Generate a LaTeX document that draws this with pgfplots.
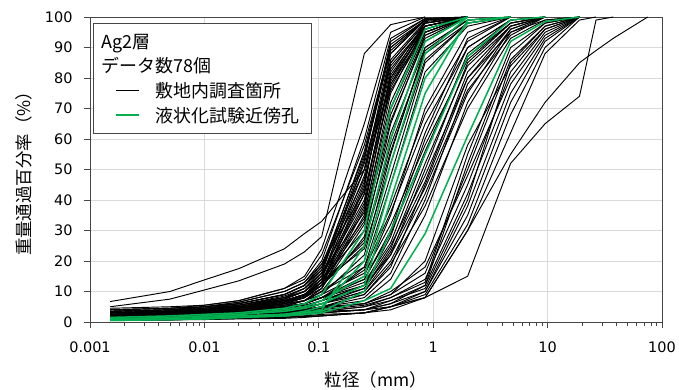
\documentclass[border=0pt]{standalone}
\usepackage{fontspec}
\setmainfont{DejaVu Sans}
\newfontfamily\jp{Noto Sans CJK JP}
\usepackage{pgfplots}
\pgfplotsset{compat=1.18}
\definecolor{xlgreen}{RGB}{0,176,80}
\definecolor{gridgray}{RGB}{217,217,217}
\definecolor{axgray}{RGB}{70,70,70}
\pgfplotsset{cb/.style={black, line width=0.95bp, forget plot},
             cg/.style={xlgreen, line width=1.5bp, forget plot}}
\begin{document}
\begin{tikzpicture}
\useasboundingbox (-90bp,-68bp) rectangle (589bp,322bp);
\begin{axis}[
  at={(0,0)}, anchor=south west,
  scale only axis, width=572bp, height=305bp,
  xmode=log, xmin=0.001, xmax=100, ymin=0, ymax=100,
  xtick={0.001,0.01,0.1,1,10,100},
  xticklabels={0.001,0.01,0.1,1,10,100},
  minor xtick={0.002,0.003,0.004,0.005,0.006,0.007,0.008,0.009,0.02,0.03,0.04,0.05,0.06,0.07,0.08,0.09,0.2,0.3,0.4,0.5,0.6,0.7,0.8,0.9,2,3,4,5,6,7,8,9,20,30,40,50,60,70,80,90},
  ytick={0,10,...,100},
  grid=major, major grid style={gridgray, line width=0.9bp},
  axis line style={axgray, line width=0.9bp},
  tick align=outside, tick pos=left,
  major tick length=6bp, minor tick length=4bp,
  every tick/.style={axgray, line width=0.8bp},
  /pgf/number format/assume math mode=true,
  tick label style={font=\fontsize{14.5}{14.5}\selectfont},
  xticklabel style={yshift=-10bp},
  yticklabel style={xshift=-8bp},
  xlabel={\jp 粒径（mm）}, ylabel={\jp 重量通過百分率（\%）},
  label style={font=\fontsize{17.5}{17.5}\selectfont},
  xlabel style={at={(axis description cs:0.5,-0.19)}, anchor=center},
  ylabel style={at={(axis description cs:-0.1154,0.5)}, anchor=center},
  legend style={at={(axis description cs:0.005,0.979)}, anchor=north west,
    draw=axgray, line width=0.9bp, fill=white, font=\fontsize{18}{18}\selectfont\jp,
    row sep=4bp, inner xsep=22bp, inner ysep=8bp},
  legend cell align=left,
  legend image code/.code={\draw[#1] (0bp,0bp) -- (23bp,0bp);},
]
\addlegendimage{empty legend}\addlegendentry{\hspace*{-40bp}Ag2層}
\addlegendimage{empty legend}\addlegendentry{\hspace*{-40bp}データ数78個}
\addlegendimage{black, line width=1.1bp}\addlegendentry{\hspace*{14bp}敷地内調査箇所}
\addlegendimage{xlgreen, line width=1.5bp}\addlegendentry{\hspace*{14bp}液状化試験近傍孔\hspace*{-12bp}}
% fine group
\addplot[cb] coordinates {(0.0015,3)(0.005,3.5)(0.01,4)(0.02,5)(0.05,7)(0.075,9)(0.106,13)(0.25,45)(0.425,85)(0.85,98)(2,100)};
\addplot[cb] coordinates {(0.0015,2.5)(0.005,3)(0.01,3.5)(0.02,4.5)(0.05,6.5)(0.075,8)(0.106,12)(0.25,38)(0.425,78)(0.85,97)(2,100)};
\addplot[cb] coordinates {(0.0015,3.5)(0.005,4)(0.01,4.5)(0.02,6)(0.05,9)(0.075,12)(0.106,18)(0.25,55)(0.425,90)(0.85,99)(2,100)};
\addplot[cb] coordinates {(0.0015,2)(0.005,2.5)(0.01,3)(0.02,3.5)(0.05,5)(0.075,6)(0.106,9)(0.25,30)(0.425,70)(0.85,95)(2,100)};
\addplot[cb] coordinates {(0.0015,3)(0.005,3.5)(0.01,4)(0.02,5)(0.05,8)(0.075,10)(0.106,15)(0.25,50)(0.425,88)(0.85,99)(2,100)};
\addplot[cb] coordinates {(0.0015,2.5)(0.005,3)(0.01,3.5)(0.02,4.5)(0.05,6)(0.075,7)(0.106,10)(0.25,28)(0.425,65)(0.85,94)(2,100)};
\addplot[cb] coordinates {(0.0015,4)(0.005,4.5)(0.01,5)(0.02,6.5)(0.05,10)(0.075,13)(0.106,20)(0.25,60)(0.425,93)(0.85,99.5)(2,100)};
\addplot[cb] coordinates {(0.0015,2)(0.005,2.5)(0.01,3)(0.02,4)(0.05,5.5)(0.075,7)(0.106,11)(0.25,35)(0.425,75)(0.85,97)(2,100)};
\addplot[cb] coordinates {(0.0015,3)(0.005,3.5)(0.01,4)(0.02,5.5)(0.05,8)(0.075,11)(0.106,16)(0.25,42)(0.425,80)(0.85,98)(2,100)};
\addplot[cb] coordinates {(0.0015,2.5)(0.005,3)(0.01,3.5)(0.02,4.5)(0.05,7)(0.075,9)(0.106,14)(0.25,48)(0.425,86)(0.85,98.5)(2,100)};
\addplot[cb] coordinates {(0.0015,3.5)(0.005,4)(0.01,5)(0.02,6)(0.05,9)(0.075,12)(0.106,17)(0.25,52)(0.425,84)(0.85,97)(2,100)};
\addplot[cb] coordinates {(0.0015,2)(0.005,2.5)(0.01,3)(0.02,4)(0.05,6)(0.075,8)(0.106,12)(0.25,25)(0.425,60)(0.85,92)(2,100)};
\addplot[cb] coordinates {(0.0015,3)(0.005,3.5)(0.01,4.5)(0.02,5.5)(0.05,8.5)(0.075,11)(0.106,16)(0.25,36)(0.425,72)(0.85,96)(2,100)};
\addplot[cb] coordinates {(0.0015,1.5)(0.005,2)(0.01,2.5)(0.02,3)(0.05,4.5)(0.075,6)(0.106,9)(0.25,22)(0.425,55)(0.85,90)(2,99)(4.75,100)};
\addplot[cb] coordinates {(0.0015,3)(0.005,3.5)(0.01,4)(0.02,5)(0.05,7.5)(0.075,10)(0.106,15)(0.25,40)(0.425,82)(0.85,98)(2,100)};
\addplot[cb] coordinates {(0.0015,4)(0.005,4.5)(0.01,5.5)(0.02,7)(0.05,11)(0.075,14)(0.106,22)(0.25,58)(0.425,90)(0.85,99)(2,100)};
\addplot[cb] coordinates {(0.0015,2.5)(0.005,3)(0.01,3.5)(0.02,4)(0.05,6)(0.075,8)(0.106,13)(0.25,33)(0.425,68)(0.85,94)(2,100)};
\addplot[cb] coordinates {(0.0015,2)(0.005,2.5)(0.01,3)(0.02,4)(0.05,6)(0.075,8)(0.106,12)(0.25,44)(0.425,88)(0.85,99)(2,100)};
\addplot[cb] coordinates {(0.0015,3.5)(0.005,4)(0.01,4.5)(0.02,5.5)(0.05,8)(0.075,10)(0.106,14)(0.25,30)(0.425,62)(0.85,90)(2,99)(4.75,100)};
\addplot[cb] coordinates {(0.0015,3)(0.005,3.5)(0.01,4)(0.02,5)(0.05,7)(0.075,9)(0.106,14)(0.25,53)(0.425,92)(0.85,99.5)(2,100)};
\addplot[cb] coordinates {(0.0015,2.5)(0.005,3)(0.01,3.5)(0.02,4.5)(0.05,6.5)(0.075,8.5)(0.106,13)(0.25,39)(0.425,77)(0.85,96)(2,100)};
\addplot[cb] coordinates {(0.0015,3)(0.005,3.5)(0.01,4)(0.02,5)(0.05,7)(0.075,9)(0.106,12)(0.25,27)(0.425,58)(0.85,88)(2,98)(4.75,100)};
\addplot[cb] coordinates {(0.0015,4.5)(0.005,5)(0.01,5.5)(0.02,7)(0.05,11)(0.075,15)(0.106,24)(0.25,65)(0.425,95)(0.85,100)};
\addplot[cb] coordinates {(0.0015,2)(0.005,2.5)(0.01,3)(0.02,3.5)(0.05,5)(0.075,7)(0.106,10)(0.25,20)(0.425,48)(0.85,85)(2,98)(4.75,100)};
\addplot[cb] coordinates {(0.0015,3)(0.005,3.5)(0.01,4)(0.02,5)(0.05,7.5)(0.075,10)(0.106,15)(0.25,46)(0.425,83)(0.85,97)(2,100)};
\addplot[cb] coordinates {(0.0015,2.5)(0.005,3)(0.01,3.5)(0.02,4.5)(0.05,6)(0.075,8)(0.106,11)(0.25,32)(0.425,66)(0.85,93)(2,100)};
\addplot[cb] coordinates {(0.0015,3.5)(0.005,4)(0.01,4.5)(0.02,6)(0.05,9)(0.075,12)(0.106,19)(0.25,50)(0.425,85)(0.85,98)(2,100)};
\addplot[cb] coordinates {(0.0015,3)(0.005,3.5)(0.01,4)(0.02,5)(0.05,7)(0.075,9)(0.106,13)(0.25,26)(0.425,56)(0.85,89)(2,99)(4.75,100)};
\addplot[cb] coordinates {(0.0015,2)(0.005,2.5)(0.01,3)(0.02,4)(0.05,5.5)(0.075,7)(0.106,11)(0.25,37)(0.425,79)(0.85,97)(2,100)};
\addplot[cb] coordinates {(0.0015,3)(0.005,3.5)(0.01,4)(0.02,5.5)(0.05,8)(0.075,11)(0.106,17)(0.25,56)(0.425,91)(0.85,99)(2,100)};
\addplot[cb] coordinates {(0.0015,4)(0.005,4.5)(0.01,5)(0.02,6.5)(0.05,10)(0.075,13)(0.106,19)(0.25,43)(0.425,76)(0.85,95)(2,100)};
\addplot[cb] coordinates {(0.0015,2.5)(0.005,3)(0.01,3.5)(0.02,4.5)(0.05,6.5)(0.075,9)(0.106,14)(0.25,34)(0.425,70)(0.85,95)(2,100)};
\addplot[cb] coordinates {(0.0015,1.5)(0.005,2)(0.01,2.5)(0.02,3)(0.05,4)(0.075,5)(0.106,7)(0.25,18)(0.425,45)(0.85,82)(2,97)(4.75,100)};
\addplot[cb] coordinates {(0.0015,3)(0.005,3.5)(0.01,4)(0.02,5)(0.05,7)(0.075,9)(0.106,13)(0.25,24)(0.425,52)(0.85,86)(2,98)(4.75,100)};
\addplot[cb] coordinates {(0.0015,3.5)(0.005,4)(0.01,5)(0.02,6)(0.05,9)(0.075,12)(0.106,18)(0.25,47)(0.425,80)(0.85,96)(2,100)};
\addplot[cb] coordinates {(0.0015,2.5)(0.005,3)(0.01,3.5)(0.02,4.5)(0.05,6.5)(0.075,8.5)(0.106,13)(0.25,42)(0.425,81)(0.85,97)(2,100)};
\addplot[cb] coordinates {(0.0015,3)(0.005,3.5)(0.01,4)(0.02,5)(0.05,7.5)(0.075,10)(0.106,16)(0.25,54)(0.425,89)(0.85,99)(2,100)};
% medium group
\addplot[cb] coordinates {(0.0015,2)(0.005,2.5)(0.01,3)(0.02,3.5)(0.05,5)(0.075,6)(0.106,8)(0.25,15)(0.425,35)(0.85,70)(2,95)(4.75,100)};
\addplot[cb] coordinates {(0.0015,1.5)(0.005,2)(0.01,2.5)(0.02,3)(0.05,4)(0.075,5)(0.106,7)(0.25,12)(0.425,28)(0.85,60)(2,90)(4.75,99)(9.5,100)};
\addplot[cb] coordinates {(0.0015,2.5)(0.005,3)(0.01,3.5)(0.02,4.5)(0.05,6)(0.075,7)(0.106,10)(0.25,18)(0.425,38)(0.85,68)(2,92)(4.75,100)};
\addplot[cb] coordinates {(0.0015,1)(0.005,1.5)(0.01,2)(0.02,2.5)(0.05,3.5)(0.075,4)(0.106,6)(0.25,10)(0.425,22)(0.85,50)(2,85)(4.75,98)(9.5,100)};
\addplot[cb] coordinates {(0.0015,2)(0.005,2.5)(0.01,3)(0.02,3.5)(0.05,5)(0.075,6)(0.106,8)(0.25,14)(0.425,30)(0.85,62)(2,93)(4.75,100)};
\addplot[cb] coordinates {(0.0015,1.5)(0.005,2)(0.01,2.5)(0.02,3)(0.05,4)(0.075,5)(0.106,6)(0.25,9)(0.425,18)(0.85,45)(2,80)(4.75,97)(9.5,100)};
\addplot[cb] coordinates {(0.0015,2)(0.005,2.5)(0.01,3)(0.02,4)(0.05,5)(0.075,6)(0.106,8)(0.25,13)(0.425,26)(0.85,55)(2,88)(4.75,99)(9.5,100)};
\addplot[cb] coordinates {(0.0015,1)(0.005,1.5)(0.01,2)(0.02,2.5)(0.05,3)(0.075,4)(0.106,5)(0.25,8)(0.425,16)(0.85,40)(2,78)(4.75,96)(9.5,100)};
\addplot[cb] coordinates {(0.0015,2.5)(0.005,3)(0.01,3.5)(0.02,4)(0.05,5.5)(0.075,7)(0.106,9)(0.25,16)(0.425,32)(0.85,58)(2,86)(4.75,98)(9.5,100)};
\addplot[cb] coordinates {(0.0015,1.5)(0.005,2)(0.01,2.5)(0.02,3)(0.05,4)(0.075,5)(0.106,7)(0.25,11)(0.425,24)(0.85,52)(2,84)(4.75,97)(9.5,100)};
\addplot[cb] coordinates {(0.0015,2)(0.005,2.5)(0.01,3)(0.02,3.5)(0.05,4.5)(0.075,5.5)(0.106,7)(0.25,12)(0.425,25)(0.85,48)(2,80)(4.75,95)(9.5,100)};
\addplot[cb] coordinates {(0.0015,1)(0.005,1.5)(0.01,2)(0.02,2.5)(0.05,3)(0.075,3.5)(0.106,5)(0.25,7)(0.425,14)(0.85,35)(2,72)(4.75,95)(9.5,99)(19,100)};
\addplot[cb] coordinates {(0.0015,2)(0.005,2.5)(0.01,3)(0.02,3.5)(0.05,4.5)(0.075,6)(0.106,8)(0.25,17)(0.425,36)(0.85,65)(2,90)(4.75,99)(9.5,100)};
\addplot[cb] coordinates {(0.0015,1.5)(0.005,2)(0.01,2.5)(0.02,3)(0.05,4)(0.075,4.5)(0.106,6)(0.25,10)(0.425,20)(0.85,42)(2,75)(4.75,96)(9.5,100)};
\addplot[cb] coordinates {(0.0015,1)(0.005,1.5)(0.01,2)(0.02,2.5)(0.05,3)(0.075,4)(0.106,5)(0.25,9)(0.425,19)(0.85,38)(2,70)(4.75,93)(9.5,99)(19,100)};
\addplot[cb] coordinates {(0.0015,2)(0.005,2.5)(0.01,3)(0.02,3.5)(0.05,5)(0.075,6)(0.106,8)(0.25,14)(0.425,29)(0.85,56)(2,87)(4.75,98)(9.5,100)};
\addplot[cb] coordinates {(0.0015,1.5)(0.005,2)(0.01,2.5)(0.02,3)(0.05,3.5)(0.075,4.5)(0.106,6)(0.25,11)(0.425,23)(0.85,46)(2,82)(4.75,97)(9.5,100)};
\addplot[cb] coordinates {(0.0015,2.5)(0.005,3)(0.01,3.5)(0.02,4)(0.05,5)(0.075,6)(0.106,8)(0.25,12)(0.425,22)(0.85,44)(2,76)(4.75,94)(9.5,100)};
% coarse group
\addplot[cb] coordinates {(0.0015,1)(0.005,1.2)(0.01,1.5)(0.02,2)(0.05,2.5)(0.075,3)(0.106,3.5)(0.25,5)(0.425,8)(0.85,14)(2,45)(4.75,82)(9.5,96)(19,100)};
\addplot[cb] coordinates {(0.0015,0.5)(0.005,0.8)(0.01,1)(0.02,1.5)(0.05,2)(0.075,2.5)(0.106,3)(0.25,4)(0.425,6)(0.85,10)(2,38)(4.75,75)(9.5,93)(19,100)};
\addplot[cb] coordinates {(0.0015,1.5)(0.005,2)(0.01,2.5)(0.02,3)(0.05,3.5)(0.075,4)(0.106,5)(0.25,6)(0.425,9)(0.85,16)(2,50)(4.75,86)(9.5,97)(19,100)};
\addplot[cb] coordinates {(0.0015,0.8)(0.005,1)(0.01,1.2)(0.02,1.5)(0.05,2)(0.075,2.5)(0.106,3)(0.25,4)(0.425,7)(0.85,12)(2,42)(4.75,78)(9.5,94)(19,100)};
\addplot[cb] coordinates {(0.0015,1)(0.005,1.5)(0.01,2)(0.02,2.5)(0.05,3)(0.075,3.5)(0.106,4)(0.25,5.5)(0.425,8)(0.85,13)(2,55)(4.75,90)(9.5,98)(19,100)};
\addplot[cb] coordinates {(0.0015,0.5)(0.005,0.8)(0.01,1)(0.02,1.2)(0.05,1.5)(0.075,2)(0.106,2.5)(0.25,3)(0.425,5)(0.85,9)(2,32)(4.75,68)(9.5,90)(19,100)};
\addplot[cb] coordinates {(0.0015,1.2)(0.005,1.5)(0.01,2)(0.02,2.5)(0.05,3)(0.075,3.5)(0.106,4.5)(0.25,6)(0.425,10)(0.85,18)(2,48)(4.75,80)(9.5,95)(19,100)};
\addplot[cb] coordinates {(0.0015,0.5)(0.005,0.7)(0.01,1)(0.02,1.2)(0.05,1.5)(0.075,2)(0.106,2)(0.25,3)(0.425,4)(0.85,8)(2,30)(4.75,62)(9.5,88)(19,99)(26.5,100)};
\addplot[cb] coordinates {(0.0015,1)(0.005,1.2)(0.01,1.5)(0.02,2)(0.05,2.5)(0.075,3)(0.106,3.5)(0.25,5)(0.425,7)(0.85,11)(2,40)(4.75,85)(9.5,97)(19,100)};
\addplot[cb] coordinates {(0.0015,0.8)(0.005,1)(0.01,1.2)(0.02,1.5)(0.05,2)(0.075,2.5)(0.106,3)(0.25,4)(0.425,6)(0.85,12)(2,52)(4.75,88)(9.5,98)(19,100)};
\addplot[cb] coordinates {(0.0015,1.5)(0.005,2)(0.01,2.5)(0.02,3)(0.05,3.5)(0.075,4)(0.106,4.5)(0.25,6)(0.425,9)(0.85,20)(2,58)(4.75,84)(9.5,96)(19,100)};
\addplot[cb] coordinates {(0.0015,0.5)(0.005,0.7)(0.01,1)(0.02,1.2)(0.05,1.5)(0.075,1.8)(0.106,2)(0.25,3)(0.425,5)(0.85,10)(2,35)(4.75,72)(9.5,92)(19,100)};
% outliers
\addplot[cb] coordinates {(0.0015,5)(0.005,7.5)(0.01,10.5)(0.02,13.5)(0.05,19)(0.075,23)(0.106,28)(0.25,88)(0.425,97.5)(0.85,100)};
\addplot[cb] coordinates {(0.0015,6.7)(0.005,10)(0.01,13.8)(0.02,17.5)(0.05,24)(0.075,29)(0.106,33)(0.25,50)(0.425,78)(0.85,95)(2,100)};
\addplot[cb] coordinates {(0.0015,0.5)(0.005,0.7)(0.01,0.8)(0.02,1)(0.05,1.2)(0.075,1.5)(0.106,2)(0.25,3)(0.425,5)(0.85,8)(2,15)(4.75,52)(9.5,65)(19,74)(26.5,99)(37.5,100)};
\addplot[cb] coordinates {(0.0015,1)(0.005,1.2)(0.01,1.5)(0.02,2)(0.05,2.5)(0.075,3)(0.106,3.5)(0.25,4)(0.425,5)(0.85,8)(2,30)(4.75,55)(9.5,72)(19,85)(26.5,89)(37.5,93)(75,100)};
% green
\addplot[cg] coordinates {(0.0015,0.5)(0.005,0.8)(0.01,1)(0.02,1.5)(0.05,2)(0.075,3)(0.106,4)(0.25,25)(0.425,60)(0.85,92)(2,100)};
\addplot[cg] coordinates {(0.0015,1)(0.005,1.5)(0.01,2)(0.02,2.5)(0.05,4)(0.075,5)(0.106,7)(0.25,15)(0.425,45)(0.85,80)(2,98)(4.75,100)};
\addplot[cg] coordinates {(0.0015,0.8)(0.005,1)(0.01,1.5)(0.02,2)(0.05,2.5)(0.075,3)(0.106,3.5)(0.25,10)(0.425,30)(0.85,55)(2,87)(4.75,99)(9.5,100)};
\addplot[cg] coordinates {(0.0015,0.5)(0.005,0.8)(0.01,1)(0.02,1.5)(0.05,2)(0.075,2.5)(0.106,3)(0.25,7)(0.425,11)(0.85,29)(2,61)(4.75,92)(9.5,98.5)(19,100)};
\addplot[cg] coordinates {(0.0015,1.5)(0.005,2)(0.01,2.5)(0.02,3)(0.05,4.5)(0.075,6)(0.106,9)(0.25,30)(0.425,70)(0.85,96)(2,100)};
\addplot[cg] coordinates {(0.0015,1)(0.005,1.5)(0.01,2)(0.02,2.5)(0.05,3.5)(0.075,4.5)(0.106,6)(0.25,12)(0.425,40)(0.85,75)(2,99)(4.75,100)};
\addplot[cg] coordinates {(0.0015,0.8)(0.005,1)(0.01,1.2)(0.02,1.5)(0.05,2.5)(0.075,3.5)(0.106,5)(0.25,20)(0.425,52)(0.85,88)(2,100)};
\end{axis}
\end{tikzpicture}
\end{document}
